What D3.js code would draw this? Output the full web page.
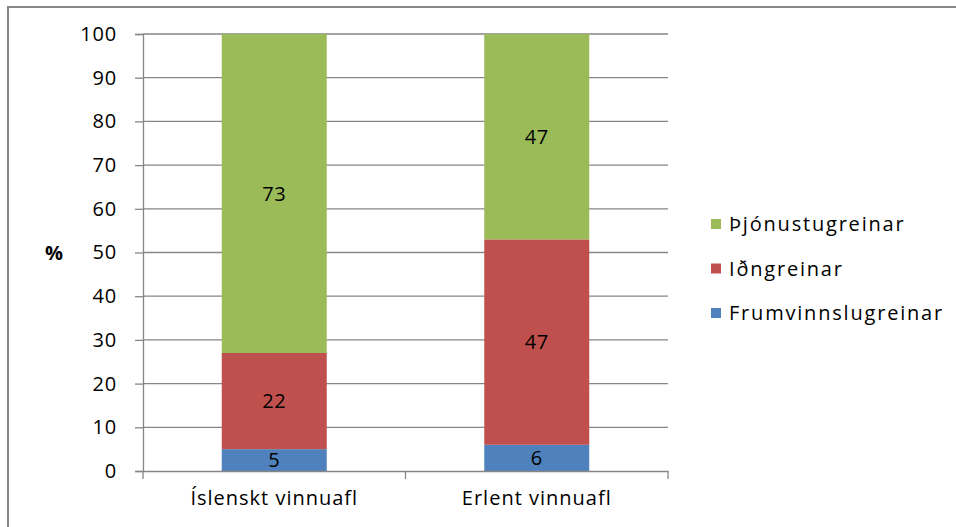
<!DOCTYPE html>
<html>
<head>
<meta charset="utf-8">
<script src="https://cdn.jsdelivr.net/npm/d3@7"></script>
<style>
  body { margin: 0; background: #fff; }
  svg text { font-family: "Open Sans", Lato, sans-serif; fill: #000; }
</style>
</head>
<body>
<div id="chart"></div>
<script>
// chart data
var categories = ['Íslenskt vinnuafl', 'Erlent vinnuafl'];
var seriesNames = ['Frumvinnslugreinar', 'Iðngreinar', 'Þjónustugreinar'];
var frumvinnsla = [5, 6];
var idngreinar = [22, 47];
var thjonusta = [73, 47];
var yTicks = [0, 10, 20, 30, 40, 50, 60, 70, 80, 90, 100];
var colors = ['#4F81BD', '#C0504D', '#9BBB59'];

var width = 956, height = 527;
var margin = {top: 34, left: 143, right: 288, bottom: 56};

var svg = d3.select('#chart').append('svg')
    .attr('width', width)
    .attr('height', height);

// frame (only top and left edges are visible)
svg.append('path')
    .attr('d', 'M8,527V7H956')
    .attr('fill', 'none')
    .attr('stroke', '#878787')
    .attr('stroke-width', 2);

var x = d3.scaleBand()
    .domain(categories)
    .range([margin.left, width - margin.right]);

var y = d3.scaleLinear()
    .domain([0, 100])
    .range([height - margin.bottom, margin.top]);

// gridlines
svg.append('g').selectAll('line')
    .data(yTicks.filter(function(d) { return d > 0; }))
    .enter().append('line')
    .attr('x1', margin.left).attr('x2', width - margin.right)
    .attr('y1', function(d) { return y(d); })
    .attr('y2', function(d) { return y(d); })
    .attr('stroke', '#868686')
    .attr('stroke-width', 1.3);

// stacked data
var table = categories.map(function(c, i) {
    return {cat: c, Frumvinnslugreinar: frumvinnsla[i], 'Iðngreinar': idngreinar[i], 'Þjónustugreinar': thjonusta[i]};
});
var stacked = d3.stack().keys(seriesNames)(table);

var barW = x.bandwidth() * 0.4;
var layers = svg.append('g').selectAll('g')
    .data(stacked)
    .enter().append('g')
    .attr('fill', function(d, i) { return colors[i]; });

layers.selectAll('rect')
    .data(function(d) { return d; })
    .enter().append('rect')
    .attr('x', function(d) { return x(d.data.cat) + (x.bandwidth() - barW) / 2; })
    .attr('width', barW)
    .attr('y', function(d) { return y(d[1]); })
    .attr('height', function(d) { return y(d[0]) - y(d[1]); });

layers.selectAll('text')
    .data(function(d) { return d; })
    .enter().append('text')
    .attr('x', function(d) { return x(d.data.cat) + x.bandwidth() / 2; })
    .attr('y', function(d) { return (y(d[0]) + y(d[1])) / 2; })
    .attr('dy', '0.36em')
    .attr('text-anchor', 'middle')
    .style('font-size', '20px')
    .style('letter-spacing', '0.5px')
    .text(function(d) { return d[1] - d[0]; });

// y axis
var yAxis = svg.append('g')
    .attr('transform', 'translate(' + margin.left + ',0)')
    .call(d3.axisLeft(y).tickValues(yTicks).tickSize(8).tickPadding(18));
yAxis.selectAll('line, path').attr('stroke', '#868686').attr('stroke-width', 1.3);
yAxis.selectAll('text').style('font-size', '20px').style('letter-spacing', '0.8px').attr('font-family', null);

// x axis
var xAxis = svg.append('g')
    .attr('transform', 'translate(0,' + (height - margin.bottom) + ')')
    .call(d3.axisBottom(x).tickSizeOuter(0).tickSize(0).tickPadding(20));
xAxis.select('path').attr('stroke', '#868686').attr('stroke-width', 1.3);
xAxis.selectAll('text').style('font-size', '20px').style('letter-spacing', '1px').attr('font-family', null);
// category separators
xAxis.append('g').selectAll('line')
    .data(d3.range(categories.length + 1))
    .enter().append('line')
    .attr('x1', function(i) { return margin.left + i * x.step(); })
    .attr('x2', function(i) { return margin.left + i * x.step(); })
    .attr('y1', 0).attr('y2', 8)
    .attr('stroke', '#868686')
    .attr('stroke-width', 1.3);

// y title
svg.append('text')
    .attr('x', 54)
    .attr('y', y(50))
    .attr('dy', '0.36em')
    .attr('text-anchor', 'middle')
    .style('font-size', '20px')
    .style('font-weight', 'bold')
    .text('%');

// legend, top entry is the top of the stack
var legendItems = seriesNames.slice().reverse();
var legend = svg.append('g')
    .attr('transform', 'translate(711,224)');
var item = legend.selectAll('g')
    .data(legendItems)
    .enter().append('g')
    .attr('transform', function(d, i) { return 'translate(0,' + i * 44.5 + ')'; });
item.append('rect')
    .attr('x', 0).attr('y', -5)
    .attr('width', 10).attr('height', 10)
    .attr('fill', function(d) { return colors[seriesNames.indexOf(d)]; });
item.append('text')
    .attr('x', 18)
    .attr('dy', '0.36em')
    .style('font-size', '20px')
    .style('letter-spacing', '1.8px')
    .text(function(d) { return d; });
</script>
</body>
</html>
